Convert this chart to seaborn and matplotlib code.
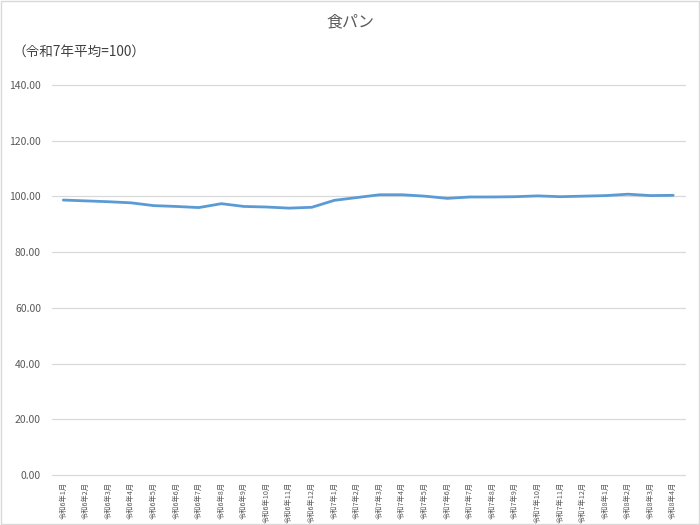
import matplotlib
matplotlib.use("Agg")
import matplotlib.pyplot as plt
import seaborn as sns
import pandas as pd

months = [f"令和6年{m}月" for m in range(1, 13)] + \
         [f"令和7年{m}月" for m in range(1, 13)] + \
         [f"令和8年{m}月" for m in range(1, 5)]
values = [98.7, 98.4, 98.1, 97.7, 96.7, 96.4, 96.0, 97.4, 96.4, 96.2, 95.8, 96.1,
          98.6, 99.6, 100.6, 100.6, 100.1, 99.3, 99.8, 99.8, 99.9, 100.2, 99.9, 100.1,
          100.3, 100.8, 100.3, 100.4]
title = "食パン"
subtitle = "（令和7年平均=100）"
yticks = [0, 20, 40, 60, 80, 100, 120, 140]

sns.set_theme(style="white")
plt.rcParams['font.family'] = ['Noto Sans CJK JP', 'DejaVu Sans']

df = pd.DataFrame({"x": range(len(months)), "v": values})

fig = plt.figure(figsize=(7, 5.25), dpi=100)
ax = fig.add_axes([52/700, 1-475/525, (684.5-52)/700, (475-85)/525])

for y in yticks:
    ax.axhline(y, color="#D9D9D9", lw=0.9, zorder=0, clip_on=False)

sns.lineplot(data=df, x="x", y="v", ax=ax, color="#5B9BD5", linewidth=2.0, zorder=3)

ax.set_xlim(-0.5, len(months) - 0.5)
ax.set_ylim(0, 140)
ax.set_yticks(yticks)
ax.set_yticklabels([f"{y:.2f}" for y in yticks], fontsize=7.5, color="#595959")
ax.set_xticks(range(len(months)))
ax.set_xticklabels(months, rotation=90, fontsize=5.2, color="#595959", va="top", ha="center")
ax.tick_params(axis="y", length=0, pad=8)
ax.tick_params(axis="x", length=0, pad=5)
ax.set_xlabel("")
ax.set_ylabel("")
for s in ax.spines.values():
    s.set_visible(False)

fig.text(0.5, 1-22/525, title, ha="center", va="center", fontsize=11.5, color="#595959")
fig.text(13/700, 1-52/525, subtitle, ha="left", va="center", fontsize=9.8, color="#404040")

fig.patches.append(plt.Rectangle((0.001, 0.001), 0.998, 0.998, transform=fig.transFigure,
                                 fill=False, edgecolor="#D9D9D9", lw=1.0))

fig.savefig("out.png", dpi=100, facecolor="white")
